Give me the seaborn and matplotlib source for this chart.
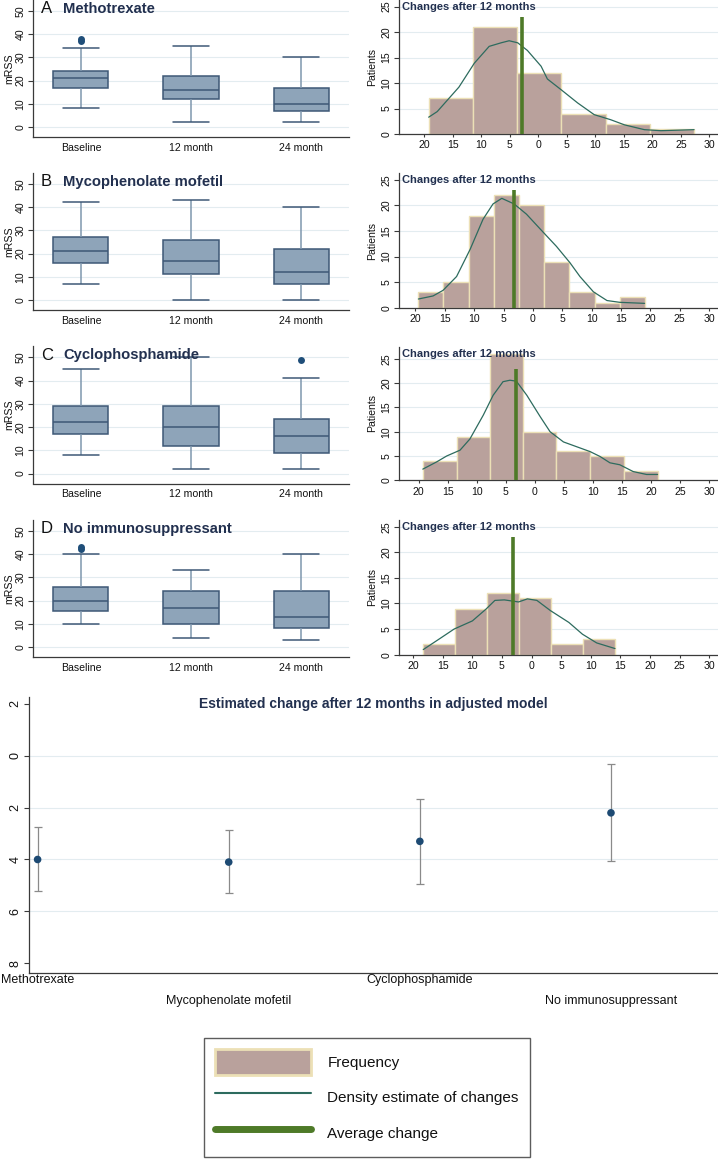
import numpy as np
import pandas as pd
import matplotlib
matplotlib.use("Agg")
import matplotlib.pyplot as plt
from matplotlib.patches import Patch
from matplotlib.lines import Line2D
import seaborn as sns

# ---------------- data ----------------
times = ["Baseline", "12 month", "24 month"]
letters = ["A", "B", "C", "D"]
treatments = ["Methotrexate", "Mycophenolate mofetil", "Cyclophosphamide", "No immunosuppressant"]

# box plots: [lower whisker, Q1, median, Q3, upper whisker] per time point
mtx_box = [[8, 17, 21, 24, 34], [2, 12, 16, 22, 35], [2, 7, 10, 17, 30]]
mmf_box = [[7, 16, 21, 27, 42], [0, 11, 17, 26, 43], [0, 7, 12, 22, 40]]
cyc_box = [[8, 17, 22, 29, 45], [2, 12, 20, 29, 50], [2, 9, 16, 23.5, 41]]
none_box = [[10, 15.5, 20, 26, 40], [4, 10, 17, 24, 33], [3, 8, 13, 24, 40]]
# outside values
mtx_out = [[37, 38], [], []]
mmf_out = [[], [], []]
cyc_out = [[], [], [49]]
none_out = [[42, 43], [], []]

# histograms of change after 12 months (bin edges and counts)
mtx_edges = [-19.2, -11.5, -3.7, 4.0, 11.8, 19.5, 27.3]
mtx_counts = [7, 21, 12, 4, 2, 1]
mmf_edges = [-19.5, -15.3, -10.9, -6.6, -2.3, 1.9, 6.2, 10.5, 14.8, 19.0]
mmf_counts = [3, 5, 18, 22, 20, 9, 3, 1, 2]
cyc_edges = [-19.3, -13.5, -7.8, -2.0, 3.7, 9.5, 15.3, 21.1]
cyc_counts = [4, 9, 26, 10, 6, 5, 2]
none_edges = [-18.3, -12.9, -7.5, -2.1, 3.3, 8.7, 14.1]
none_counts = [2, 9, 12, 11, 2, 3]

# density estimate of changes (scaled to patients)
mtx_kde_x = [-19.2, -17.7, -13.9, -11.2, -8.6, -6.5, -5.1, -3.6, -1.9, 0.5, 1.6, 4.0, 6.9, 9.8, 12.7, 15.1, 18.6, 21.5, 27.3]
mtx_kde_y = [3.3, 4.4, 9.2, 13.9, 17.2, 17.9, 18.3, 17.9, 16.4, 13.3, 10.8, 8.7, 6.1, 3.8, 2.8, 1.8, 0.85, 0.65, 0.85]
mmf_kde_x = [-19.5, -17.0, -15.3, -13.0, -10.7, -8.5, -6.8, -5.3, -3.2, -1.1, 1.8, 4.0, 6.3, 8.0, 10.3, 12.6, 14.8, 19.0]
mmf_kde_y = [1.7, 2.3, 3.4, 6.1, 11.4, 17.3, 20.3, 21.4, 20.3, 18.3, 14.7, 12.0, 8.8, 6.1, 3.1, 1.4, 1.05, 0.85]
cyc_kde_x = [-19.3, -16.9, -15.2, -12.9, -11.2, -8.9, -7.2, -5.5, -4.3, -3.2, -1.4, 0.9, 2.6, 4.9, 7.2, 9.5, 11.2, 12.9, 14.6, 16.9, 19.2, 21.1]
cyc_kde_y = [2.3, 3.8, 5.0, 6.2, 8.5, 13.4, 17.5, 20.3, 20.6, 20.4, 17.5, 13.1, 10.0, 7.9, 6.9, 5.9, 4.9, 3.6, 3.2, 1.8, 1.2, 1.2]
none_kde_x = [-18.3, -15.3, -13.1, -10.0, -7.7, -6.2, -4.6, -2.2, -0.7, 0.9, 3.2, 6.3, 8.6, 11.0, 14.1]
none_kde_y = [1.0, 3.3, 5.0, 6.6, 8.9, 10.6, 10.7, 10.3, 10.9, 10.6, 8.6, 6.3, 4.0, 2.3, 1.2]

mean_change = [-2.9, -3.2, -3.2, -3.1]

hist_ticks = [-20, -15, -10, -5, 0, 5, 10, 15, 20, 25, 30]
hist_tick_labels = ["20", "15", "10", "5", "0", "5", "10", "15", "20", "25", "30"]
box_ticks = [0, 10, 20, 30, 40, 50]
hist_yticks = [0, 5, 10, 15, 20, 25]

# adjusted model estimates
est_change = [-4.0, -4.1, -3.3, -2.2]
ci_low = [-5.2, -5.28, -4.93, -4.04]
ci_high = [-2.76, -2.88, -1.67, -0.33]
est_yticks = [-8, -6, -4, -2, 0, 2]
est_ytick_labels = ["8", "6", "4", "2", "0", "2"]

all_box = [mtx_box, mmf_box, cyc_box, none_box]
all_out = [mtx_out, mmf_out, cyc_out, none_out]
all_edges = [mtx_edges, mmf_edges, cyc_edges, none_edges]
all_counts = [mtx_counts, mmf_counts, cyc_counts, none_counts]
all_kx = [mtx_kde_x, mmf_kde_x, cyc_kde_x, none_kde_x]
all_ky = [mtx_kde_y, mmf_kde_y, cyc_kde_y, none_kde_y]

# ---------------- style ----------------
sns.set_theme(style="white")
plt.rcParams['font.family'] = ['Liberation Sans', 'DejaVu Sans']

BOX_FILL = "#8ea4b9"
BOX_EDGE = "#3e5876"
WHISK = "#7f97ae"
OUT_C = "#1f4e79"
HIST_FILL = "#b9a19c"
HIST_EDGE = "#ece0b6"
KDE_C = "#2d6b5e"
MEAN_C = "#4e7a28"
TITLE_C = "#22304f"
GRID_C = "#e3ecf0"
AX_C = "#3a3a3a"

W, H = 718, 1160
fig = plt.figure(figsize=(W / 100, H / 100), dpi=100)


def rect(l, t, r, b):
    return [l / W, 1 - b / H, (r - l) / W, (b - t) / H]


def base_style(ax, lsize=7.6):
    for s in ["top", "right"]:
        ax.spines[s].set_visible(False)
    for s in ["left", "bottom"]:
        ax.spines[s].set_color(AX_C)
        ax.spines[s].set_linewidth(0.9)
    ax.tick_params(axis="both", length=3.5, width=0.8, color=AX_C,
                   labelsize=lsize, pad=2, labelcolor="#111111",
                   left=True, bottom=True)
    ax.grid(False)


def rotate_y(ax):
    ax.tick_params(axis="y", labelrotation=90)
    for lbl in ax.get_yticklabels():
        lbl.set_va("center")


box_tops = [0, 173, 346.5, 520]
hist_tops = [0, 173.3, 346.7, 520]
hist_bottoms = [134, 307.7, 480.3, 654.7]
hist_xlims = [(-24.4, 31.5), (-22.8, 31.5), (-23.4, 31.5), (-22.4, 31.5)]
hist_ylims = [(0, 26.3), (0, 26.3), (0, 27.5), (0, 26.3)]

for i in range(4):
    # ---- box plot ----
    ax = fig.add_axes(rect(33, box_tops[i], 349, box_tops[i] + 137))
    rows = [(t, v) for t, vals in zip(times, all_box[i]) for v in vals]
    df = pd.DataFrame(rows, columns=["time", "mRSS"])
    for y in box_ticks:
        ax.axhline(y, color=GRID_C, lw=0.8, zorder=0)
    kw = dict(data=df, x="time", y="mRSS", order=times, ax=ax, width=0.5,
              color=BOX_FILL, saturation=1, linecolor=BOX_EDGE, linewidth=1.1,
              fliersize=0, whis=(0, 100), whiskerprops=dict(color=WHISK))
    try:
        sns.boxplot(capwidths=0.33, **kw)
    except TypeError:
        sns.boxplot(**kw)
    orows = [(t, v) for t, vals in zip(times, all_out[i]) for v in vals]
    if orows:
        odf = pd.DataFrame(orows, columns=["time", "mRSS"])
        sns.stripplot(data=odf, x="time", y="mRSS", order=times, jitter=False,
                      color=OUT_C, size=5, ax=ax, zorder=4)
    ax.set_xlim(-0.436, 2.436)
    ax.set_ylim(-4.3, 54.7)
    base_style(ax)
    ax.tick_params(axis="x", length=0, pad=4)
    ax.set_yticks(box_ticks)
    rotate_y(ax)
    ax.set_xlabel("")
    ax.set_ylabel("mRSS", fontsize=7.6, color="#111111")
    ax.yaxis.set_label_coords(-0.058, 0.5)
    ax.text(0.025, 0.935, letters[i], transform=ax.transAxes, fontsize=12,
            va="center", ha="left", color="#111111")
    ax.text(0.095, 0.935, treatments[i], transform=ax.transAxes, fontsize=10.6,
            fontweight="bold", va="center", ha="left", color=TITLE_C)

    # ---- histogram ----
    hx = fig.add_axes(rect(399, hist_tops[i], 718, hist_bottoms[i]))
    edges = all_edges[i]
    centers = [(a + b) / 2 for a, b in zip(edges[:-1], edges[1:])]
    for y in hist_yticks:
        hx.axhline(y, color=GRID_C, lw=0.8, zorder=0)
    sns.histplot(x=centers, weights=all_counts[i], bins=edges, ax=hx,
                 color=HIST_FILL, edgecolor=HIST_EDGE, linewidth=1.0, alpha=1)
    sns.lineplot(x=all_kx[i], y=all_ky[i], ax=hx, color=KDE_C, linewidth=0.9)
    hx.vlines(mean_change[i], 0, 23, color=MEAN_C, linewidth=2.6, zorder=5)
    hx.set_xlim(*hist_xlims[i])
    hx.set_ylim(*hist_ylims[i])
    base_style(hx)
    hx.tick_params(axis="x", length=2.5)
    hx.set_xticks(hist_ticks, labels=hist_tick_labels)
    hx.set_yticks(hist_yticks)
    rotate_y(hx)
    hx.set_xlabel("")
    hx.set_ylabel("Patients", fontsize=7.6, color="#111111")
    hx.yaxis.set_label_coords(-0.068, 0.5)
    hx.text(0.01, 1 - 7 / 134, "Changes after 12 months", transform=hx.transAxes,
            fontsize=8, fontweight="bold", va="center", ha="left", color=TITLE_C)

# ---- adjusted model panel ----
bx = fig.add_axes(rect(29, 697, 718, 973))
xpos = np.arange(len(treatments))
est = np.array(est_change)
lo = np.array(ci_low)
hi = np.array(ci_high)
for y in est_yticks[1:-1]:
    bx.axhline(y, color=GRID_C, lw=0.8, zorder=0)
bx.errorbar(xpos, est, yerr=[est - lo, hi - est], fmt="none", ecolor="#8a8a8a",
            elinewidth=0.9, capsize=3, capthick=0.9, zorder=2)
sns.scatterplot(x=xpos, y=est, ax=bx, color="#1d4a73", s=30, edgecolor="none",
                zorder=3)
bx.set_xlim(-0.045, 3.56)
bx.set_ylim(-8.38, 2.27)
base_style(bx, lsize=9)
bx.set_yticks(est_yticks, labels=est_ytick_labels)
rotate_y(bx)
bx.set_xticks(xpos, labels=treatments)
bx.tick_params(axis="x", length=0, labelsize=9, pad=1)
for k, t in enumerate(bx.xaxis.get_major_ticks()):
    if k % 2 == 1:
        t.set_pad(15.5)
bx.set_xlabel("")
bx.set_ylabel("")
bx.text(0.5, 1 - 7 / 276, "Estimated change after 12 months in adjusted model",
        transform=bx.transAxes, ha="center", va="center", fontsize=10,
        fontweight="bold", color=TITLE_C)

# ---- legend ----
handles = [Patch(facecolor=HIST_FILL, edgecolor=HIST_EDGE, linewidth=2),
           Line2D([], [], color=KDE_C, linewidth=1.5),
           Line2D([], [], color=MEAN_C, linewidth=5)]
labels = ["Frequency", "Density estimate of changes", "Average change"]
leg = fig.legend(handles, labels, loc="upper left",
                 bbox_to_anchor=(204 / W, 1 - 1038 / H), borderaxespad=0,
                 frameon=True, fancybox=False, edgecolor="#333333",
                 fontsize=11, handlelength=6.3, handleheight=2.2,
                 handletextpad=1.05, labelspacing=0.65, borderpad=0.72)
leg.get_frame().set_linewidth(1.0)
for txt in leg.get_texts():
    txt.set_color("#111111")

fig.savefig("out.png", dpi=100)
